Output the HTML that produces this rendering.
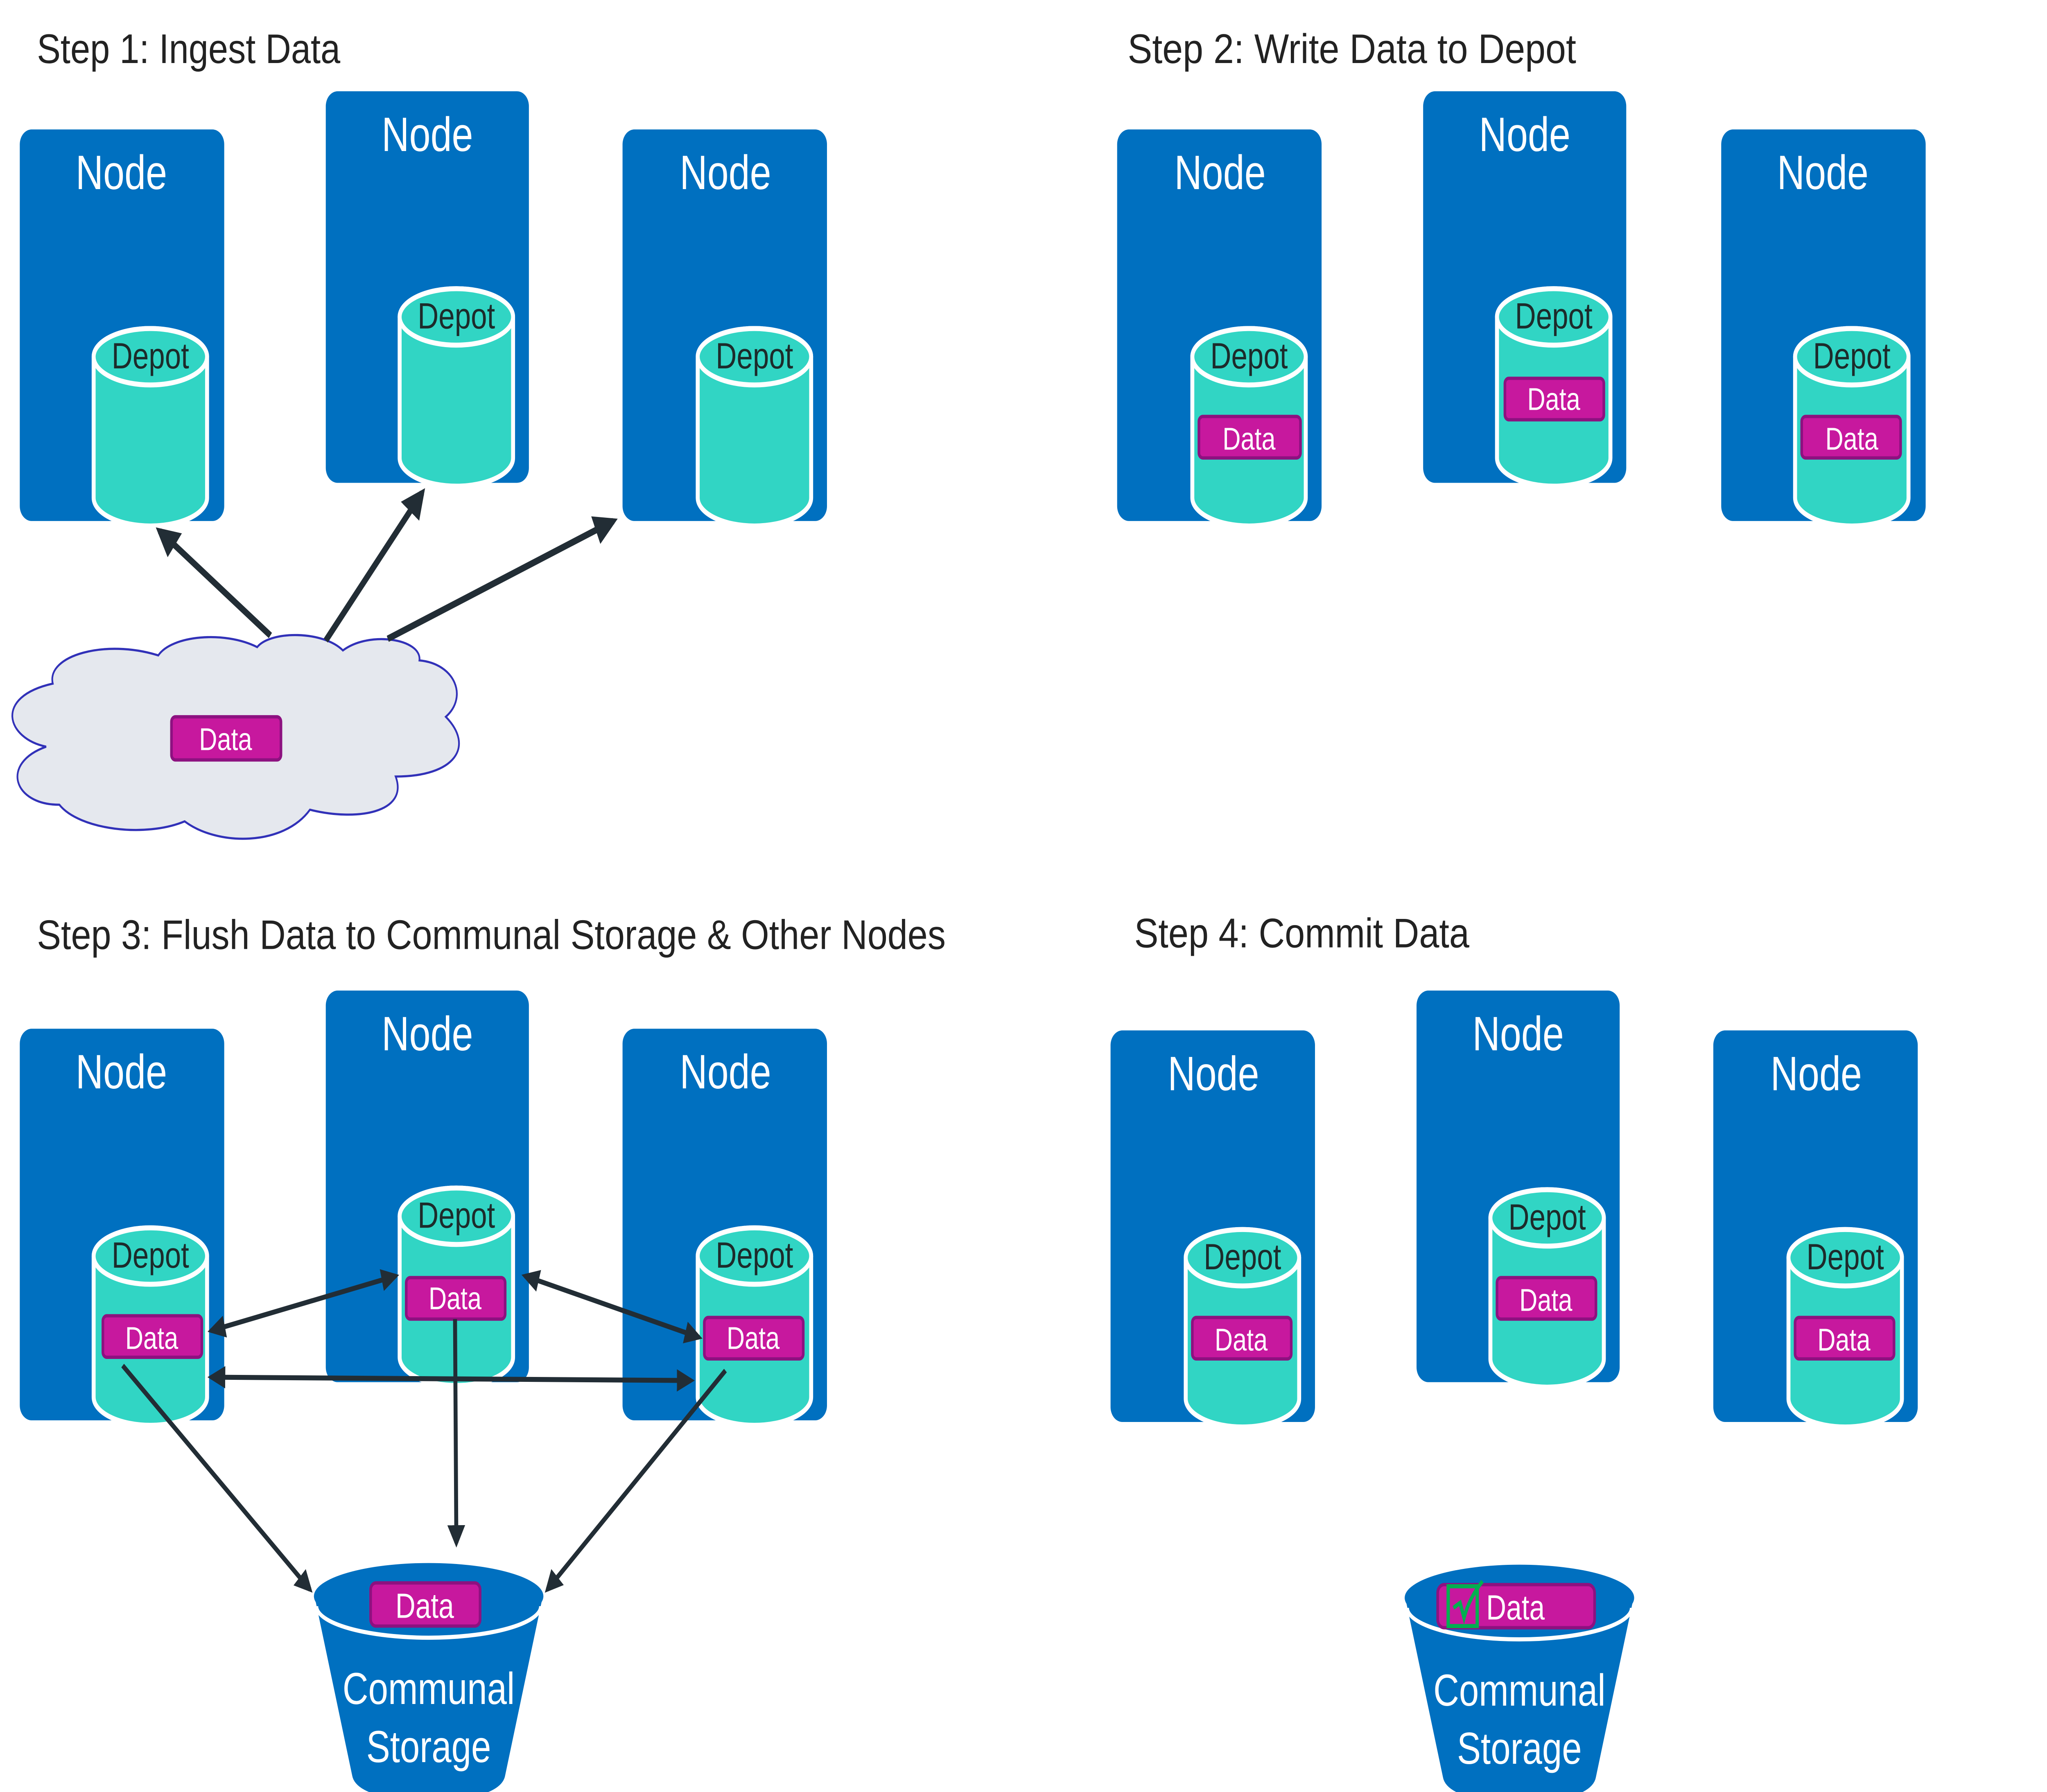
<!DOCTYPE html>
<html><head><meta charset="utf-8"><style>
html,body{margin:0;padding:0;background:#fff;overflow:hidden;width:100%;height:100%;}
svg{display:block;position:absolute;left:0;top:0;width:100vw;height:100vh;}
text{font-family:"Liberation Sans",sans-serif;}
</style></head><body>
<svg viewBox="0 0 1552 1080" preserveAspectRatio="none" xmlns="http://www.w3.org/2000/svg">
<defs>
<marker id="ah" viewBox="0 0 10 10" refX="8" refY="5" markerWidth="4.5" markerHeight="4.5" orient="auto-start-reverse"><path d="M0,0 L10,5 L0,10 Z" fill="#222d35"/></marker>
<g id="cyl">
<path d="M0,0 L0,85 A43,17 0 0 0 86,85 L86,0 A43,17 0 0 0 0,0 Z" fill="#31D5C4" stroke="#fff" stroke-width="3"/>
<ellipse cx="43" cy="0" rx="43" ry="17" fill="#31D5C4" stroke="#fff" stroke-width="3"/>
</g>
<g id="bucket">
<path d="M-86,2 L-58,108 Q-55,122 0,124 Q55,122 58,108 L86,2 Z" fill="#0070C0"/>
<ellipse cx="0" cy="0" rx="87" ry="20" fill="#0070C0"/>
<path d="M-85,6 A85,19 0 0 0 85,6" fill="none" stroke="#fff" stroke-width="2.5"/>
</g>
</defs>
<g fill="#222" font-size="25">
<text x="28" y="38" textLength="230" lengthAdjust="spacingAndGlyphs">Step 1: Ingest Data</text>
<text x="855" y="38" textLength="340" lengthAdjust="spacingAndGlyphs">Step 2: Write Data to Depot</text>
<text x="28" y="572" textLength="689" lengthAdjust="spacingAndGlyphs">Step 3: Flush Data to Communal Storage &amp; Other Nodes</text>
<text x="860" y="571" textLength="254" lengthAdjust="spacingAndGlyphs">Step 4: Commit Data</text>
</g>
<g fill="#0070C0">
<rect x="15" y="78" width="155" height="236" rx="9"/>
<rect x="247" y="55" width="154" height="236" rx="9"/>
<rect x="472" y="78" width="155" height="236" rx="9"/>
<rect x="847" y="78" width="155" height="236" rx="9"/>
<rect x="1079" y="55" width="154" height="236" rx="9"/>
<rect x="1305" y="78" width="155" height="236" rx="9"/>
<rect x="15" y="620" width="155" height="236" rx="9"/>
<rect x="247" y="597" width="154" height="236" rx="9"/>
<rect x="472" y="620" width="155" height="236" rx="9"/>
<rect x="842" y="621" width="155" height="236" rx="9"/>
<rect x="1074" y="597" width="154" height="236" rx="9"/>
<rect x="1299" y="621" width="155" height="236" rx="9"/>
</g>
<g fill="#fff" font-size="29" text-anchor="middle">
<text x="92" y="114">Node</text><text x="324" y="91">Node</text><text x="550" y="114">Node</text>
<text x="925" y="114">Node</text><text x="1156" y="91">Node</text><text x="1382" y="114">Node</text>
<text x="92" y="656">Node</text><text x="324" y="633">Node</text><text x="550" y="656">Node</text>
<text x="920" y="657">Node</text><text x="1151" y="633">Node</text><text x="1377" y="657">Node</text>
</g>
<use href="#cyl" x="71" y="215"/><use href="#cyl" x="303" y="191"/><use href="#cyl" x="529" y="215"/>
<use href="#cyl" x="904" y="215"/><use href="#cyl" x="1135" y="191"/><use href="#cyl" x="1361" y="215"/>
<use href="#cyl" x="71" y="757"/><use href="#cyl" x="303" y="733"/><use href="#cyl" x="529" y="757"/>
<use href="#cyl" x="899" y="758"/><use href="#cyl" x="1130" y="734"/><use href="#cyl" x="1356" y="758"/>
<g fill="#1d2b2b" font-size="22" text-anchor="middle">
<text x="114" y="222">Depot</text><text x="346" y="198">Depot</text><text x="572" y="222">Depot</text>
<text x="947" y="222">Depot</text><text x="1178" y="198">Depot</text><text x="1404" y="222">Depot</text>
<text x="114" y="764">Depot</text><text x="346" y="740">Depot</text><text x="572" y="764">Depot</text>
<text x="942" y="765">Depot</text><text x="1173" y="741">Depot</text><text x="1399" y="765">Depot</text>
</g>
<path d="M35,450 C5,445 -5,420 40,412 C35,395 80,385 120,395 C130,383 170,380 195,390 C205,380 245,380 260,392 C280,380 320,385 318,398 C345,400 355,420 338,432 C360,450 345,468 300,468 C310,490 270,495 235,488 C215,510 165,510 140,495 C110,505 60,500 45,485 C10,485 0,460 35,450 Z" fill="#E5E8EE" stroke="#3131b8" stroke-width="1.3"/>
<g fill="#C7189E" stroke="#8d1180" stroke-width="2">
<rect x="130" y="432" width="83" height="26" rx="3"/>
<rect x="909" y="251" width="77" height="25" rx="3"/>
<rect x="1141" y="228" width="75" height="25" rx="3"/>
<rect x="1366" y="251" width="75" height="25" rx="3"/>
</g>
<use href="#bucket" x="325" y="962"/>
<use href="#bucket" x="1152" y="963"/>
<g fill="#C7189E" stroke="#8d1180" stroke-width="2">
<rect x="78" y="793" width="75" height="25" rx="3"/>
<rect x="308" y="770" width="75" height="25" rx="3"/>
<rect x="534" y="794" width="75" height="25" rx="3"/>
<rect x="904" y="794" width="75" height="25" rx="3"/>
<rect x="1135" y="770" width="75" height="25" rx="3"/>
<rect x="1361" y="794" width="75" height="25" rx="3"/>
<rect x="281" y="954" width="83" height="26" rx="4"/>
<rect x="1090" y="955" width="119" height="26" rx="5"/>
</g>
<rect x="1098" y="956" width="22" height="24" fill="none" stroke="#00b050" stroke-width="2.5"/>
<path d="M1102,969 L1107,966 L1110,975 Q1114,963 1124,953" fill="none" stroke="#00b050" stroke-width="2.5"/>
<g fill="#fff" font-size="19" text-anchor="middle">
<text x="171" y="452">Data</text>
<text x="947" y="271">Data</text><text x="1178" y="247">Data</text><text x="1404" y="271">Data</text>
<text x="115" y="813">Data</text><text x="345" y="789">Data</text><text x="571" y="813">Data</text>
<text x="941" y="814">Data</text><text x="1172" y="790">Data</text><text x="1398" y="814">Data</text>
<text x="322" y="975" font-size="21">Data</text>
<text x="1149" y="976" font-size="21">Data</text>
</g>
<g fill="#fff" font-size="27" text-anchor="middle">
<text x="325" y="1027">Communal</text><text x="325" y="1062">Storage</text>
<text x="1152" y="1028">Communal</text><text x="1152" y="1063">Storage</text>
</g>
<g stroke="#222d35" stroke-width="4" fill="none" marker-end="url(#ah)">
<line x1="205" y1="383" x2="121" y2="320"/>
<line x1="247" y1="386" x2="320" y2="297"/>
<line x1="294" y1="385" x2="465" y2="314"/>
<line x1="160" y1="802" x2="300" y2="769" stroke-width="3" marker-start="url(#ah)"/>
<line x1="398" y1="769" x2="530" y2="806" stroke-width="3" marker-start="url(#ah)"/>
<line x1="160" y1="830" x2="524" y2="832" stroke-width="3" marker-start="url(#ah)"/>
<line x1="93" y1="823" x2="235" y2="958" stroke-width="3"/>
<line x1="345" y1="795" x2="346" y2="930" stroke-width="3"/>
<line x1="550" y1="826" x2="415" y2="958" stroke-width="3"/>
</g>
</svg>
</body></html>
